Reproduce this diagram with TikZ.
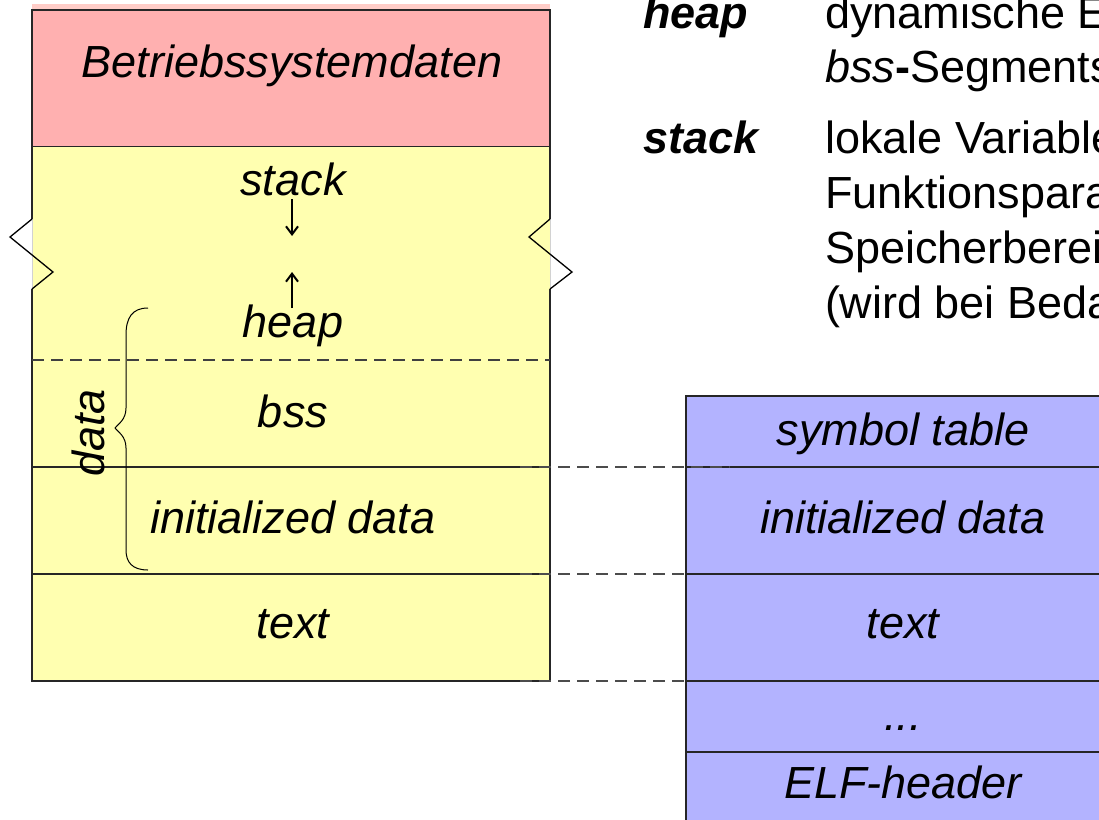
\documentclass[tikz,border=0pt]{standalone}
\usepackage{fontspec}
\setmainfont{Liberation Sans}
\usetikzlibrary{arrows.meta}
\definecolor{ospink}{RGB}{255,176,176}
\definecolor{ospale}{RGB}{255,205,200}
\definecolor{memyellow}{RGB}{255,255,176}
\definecolor{elfblue}{RGB}{179,179,255}
\tikzset{
  seg/.style={rectangle, inner sep=0pt, outer sep=0pt, anchor=north west},
  segline/.style={line width=1.2pt, draw=black!85},
  lbl/.style={inner sep=0pt, outer sep=0pt, font=\fontsize{45}{54}\selectfont\itshape},
  desc/.style={inner sep=0pt, outer sep=0pt, anchor=base west, font=\fontsize{45}{54}\selectfont},
  term/.style={inner sep=0pt, outer sep=0pt, anchor=base west, font=\fontsize{45}{54}\selectfont\bfseries\itshape},
  conn/.style={draw=black!70, dash pattern=on 12pt off 7pt, line width=1.2pt},
  growarrow/.style={line width=2pt, -{Straight Barb[length=8pt,width=12pt,line width=2pt]}},
  zig/.style={line width=1.3pt, draw=black},
  bracestyle/.style={line width=1pt, draw=black},
}
\begin{document}
\begin{tikzpicture}[x=1pt, y=-1pt]
\useasboundingbox (0,0) rectangle (1099,819);
\clip (0,0) rectangle (1099,819);
\fill[white] (0,0) rectangle (1099,819);

% ---- left memory image ----
\fill[ospale] (32,4) rectangle (550,10);
\node[seg, fill=ospink, segline, minimum width=518pt, minimum height=137pt] (os) at (32,10) {};
\node[seg, fill=memyellow, minimum width=518pt, minimum height=213pt] (sh) at (32,147) {};
\node[seg, fill=memyellow, minimum width=518pt, minimum height=107pt] (bss) at (32,360) {};
\node[seg, fill=memyellow, segline, minimum width=518pt, minimum height=107pt] (init) at (32,467) {};
\node[seg, fill=memyellow, segline, minimum width=518pt, minimum height=107pt] (txt) at (32,574) {};

% borders of the stack/heap and bss parts (broken at the zigzags)
\draw[segline] (sh.north west) -- (32,219);
\draw[segline] (32,289) -- (init.north west);
\draw[segline] (sh.north east) -- (550,219);
\draw[segline] (550,289) -- (init.north east);
\draw[gray!35, line width=0.6pt] (32,219) -- (32,289);
\draw[gray!35, line width=0.6pt] (550,219) -- (550,289);
\draw[draw=black!75, line width=1.2pt, dash pattern=on 12pt off 7pt] (bss.north west) -- (bss.north east);

% zigzags
\draw[zig] (32,219) -- (10,237) -- (53,272) -- (32,289);
\draw[zig] (550,219) -- (529,237) -- (572,272) -- (550,289);

% labels
\node[lbl, anchor=base] (tos) at (292,77) {Betriebssystemdaten};
\node[lbl, anchor=base] (tstack) at (293,195) {stack};
\node[lbl, anchor=base] (theap) at (293,337) {heap};
\node[lbl, anchor=base] (tbss) at (293,427) {bss};
\node[lbl, anchor=base] (tinit) at (293,533) {initialized data};
\node[lbl, anchor=base] (ttext) at (293,638) {text};
\node[lbl, anchor=base, rotate=90] (tdata) at (104,433) {data};

% growth arrows
\coordinate (stacktip) at (292,236);
\coordinate (heaptip) at (292,272);
\draw[growarrow] (292,199) -- (stacktip);
\draw[growarrow] (292,308) -- (heaptip);

% brace
\draw[bracestyle] (148,308) .. controls (132,308) and (126,318) .. (126,335)
  -- (126,408) .. controls (126,420) and (118,424) .. (115,428)
  .. controls (118,432) and (126,436) .. (126,448)
  -- (126,550) .. controls (126,562) and (132,570) .. (148,570);

% ---- right ELF file ----
\node[seg, fill=elfblue, segline, minimum width=434pt, minimum height=71pt] (sym) at (686,396) {};
\node[seg, fill=elfblue, segline, minimum width=434pt, minimum height=107pt] (rinit) at (686,467) {};
\node[seg, fill=elfblue, segline, minimum width=434pt, minimum height=107pt] (rtext) at (686,574) {};
\node[seg, fill=elfblue, segline, minimum width=434pt, minimum height=71pt] (rdots) at (686,681) {};
\node[seg, fill=elfblue, segline, minimum width=434pt, minimum height=90pt] (relf) at (686,752) {};

\node[lbl, anchor=base] (tsym) at (903,445) {symbol table};
\node[lbl, anchor=base] (trinit) at (903,533) {initialized data};
\node[lbl, anchor=base] (trtext) at (903,638) {text};
\node[lbl, anchor=base] (trdots) at (903,730) {...};
\node[lbl, anchor=base] (trelf) at (903,798) {ELF-header};

% dashed correspondences
\draw[conn] ([xshift=-30pt]bss.south east) -- ([xshift=44pt]sym.south west);
\draw[conn] ([xshift=-30pt]init.south east) -- (rinit.south west);
\draw[conn] ([xshift=-30pt]txt.south east) -- (rtext.south west);

% ---- explanations ----
\node[term] (kheap) at (643,28) {heap};
\node[desc] (dheap1) at (825,28) {dynamische E};
\node[desc] (dheap2) at (825,82) {\textit{bss}\textbf{-}Segments};
\node[term] (kstack) at (643,153) {stack};
\node[desc] (dstack1) at (825,153) {lokale Variable};
\node[desc] (dstack2) at (825,208) {Funktionspara};
\node[desc] (dstack3) at (825,263) {Speicherberei};
\node[desc] (dstack4) at (825,318) {(wird bei Beda};
\end{tikzpicture}
\end{document}
